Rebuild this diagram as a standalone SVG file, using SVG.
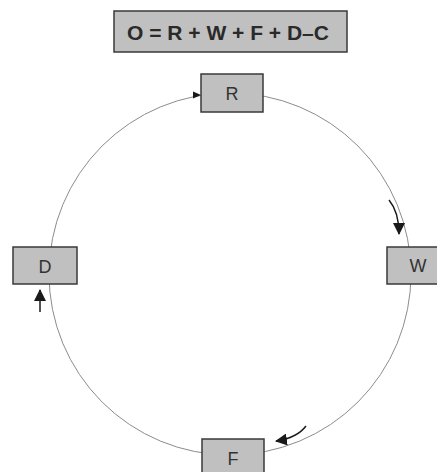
<svg xmlns="http://www.w3.org/2000/svg" width="437" height="472" viewBox="0 0 437 472">
  <style>
    .box { fill: #c0c0c0; stroke: #3a3a3a; stroke-width: 1.5; }
    .label { font-family: "Liberation Sans", Arial, sans-serif; font-size: 18px; fill: #333; text-anchor: middle; }
    .formula { font-family: "Liberation Sans", Arial, sans-serif; font-size: 21px; font-weight: bold; fill: #2a2a2a; text-anchor: middle; }
    .cycle { fill: none; stroke: #8c8c8c; stroke-width: 1; }
    .flow { fill: none; stroke: #1a1a1a; stroke-width: 1.5; }
  </style>
  <defs>
    <marker id="head" markerUnits="userSpaceOnUse" markerWidth="12" markerHeight="12" viewBox="0 0 12 12" refX="11" refY="6" orient="auto">
      <path d="M0,0 L12,6 L0,12 z" fill="#1a1a1a"/>
    </marker>
  </defs>

  <rect width="437" height="472" fill="#ffffff"/>

  <!-- connectors -->
  <g id="connectors">
    <circle class="cycle" cx="230" cy="274" r="181"/>
    <!-- head where the cycle enters R -->
    <path d="M201,95 L193,91.5 L193,98.5 z" fill="#1a1a1a"/>
    <!-- R to W -->
    <path class="flow" d="M389,200 Q399,212 399,234" marker-end="url(#head)"/>
    <!-- W to F -->
    <path class="flow" d="M306,426 Q297,438 276,441" marker-end="url(#head)"/>
    <!-- F to D -->
    <path class="flow" d="M40,312 L40,290" marker-end="url(#head)"/>
  </g>

  <!-- formula -->
  <g id="formula">
    <rect class="box" x="114" y="11" width="233" height="41"/>
    <text class="formula" x="228" y="39.5">O = R + W + F + D–C</text>
  </g>

  <!-- nodes -->
  <g id="node-R">
    <rect class="box" x="201" y="74" width="62" height="38"/>
    <text class="label" x="232" y="99.5">R</text>
  </g>
  <g id="node-W">
    <rect class="box" x="387" y="247" width="62" height="37"/>
    <text class="label" x="418" y="272">W</text>
  </g>
  <g id="node-D">
    <rect class="box" x="13" y="247" width="64" height="37"/>
    <text class="label" x="45" y="272.5">D</text>
  </g>
  <g id="node-F">
    <rect class="box" x="202" y="439" width="62" height="38"/>
    <text class="label" x="233" y="465">F</text>
  </g>
</svg>
